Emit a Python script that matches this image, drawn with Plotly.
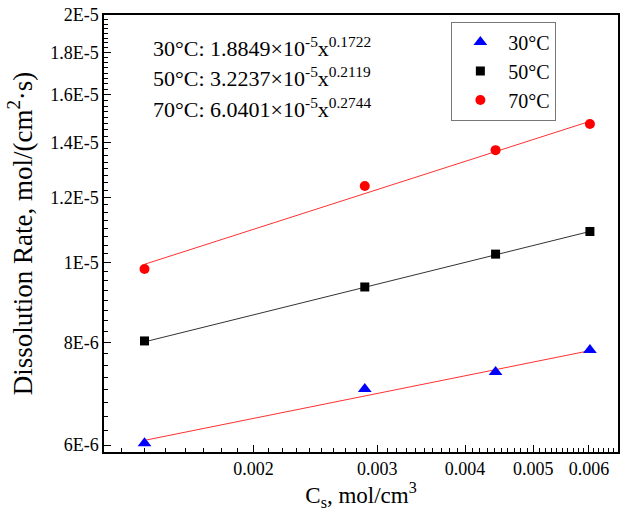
import numpy as np
import plotly.graph_objects as go

# ---- data ----
cs = [0.0014, 0.00288, 0.00442, 0.00602]
rate_30 = [6.03e-6, 7.02e-6, 7.36e-6, 7.83e-6]
rate_50 = [8.03e-6, 9.34e-6, 1.024e-5, 1.091e-5]
rate_70 = [9.82e-6, 1.239e-5, 1.370e-5, 1.474e-5]

series_names = ["30°C", "50°C", "70°C"]
fit_a = [1.8849e-5, 3.2237e-5, 6.0401e-5]
fit_b = [0.1722, 0.2119, 0.2744]
fit_exp_text = ["1.8849", "3.2237", "6.0401"]
fit_pow_text = ["0.1722", "0.2119", "0.2744"]

y_tickvals = [6e-6, 8e-6, 1e-5, 1.2e-5, 1.4e-5, 1.6e-5, 1.8e-5, 2e-5]
y_ticktext = ["6E-6", "8E-6", "1E-5", "1.2E-5", "1.4E-5", "1.6E-5", "1.8E-5", "2E-5"]
x_tickvals = [0.002, 0.003, 0.004, 0.005, 0.006]
x_ticktext = ["0.002", "0.003", "0.004", "0.005", "0.006"]

FONT = "'Liberation Serif', 'Times New Roman', serif"

fig = go.Figure()

line_colors = ["#ff3030", "#333333", "#ff3030"]
fit_x = [min(cs), max(cs)]
for a, b, col in zip(fit_a, fit_b, line_colors):
    fig.add_trace(go.Scatter(
        x=fit_x, y=[a * xv ** b for xv in fit_x], mode="lines",
        line=dict(color=col, width=1), showlegend=False, hoverinfo="skip"))

marker_specs = [
    (rate_30, "triangle-up", "#0000ff", 12),
    (rate_50, "square", "#000000", 9),
    (rate_70, "circle", "#ff0000", 10),
]
for name, (vals, sym, col, sz) in zip(series_names, marker_specs):
    fig.add_trace(go.Scatter(
        x=cs, y=vals, mode="markers", name=name,
        marker=dict(symbol=sym, color=col, size=sz, line=dict(width=0))))

# equation annotations
for i, (name, c, p) in enumerate(zip(series_names, fit_exp_text, fit_pow_text)):
    fig.add_annotation(
        xref="paper", yref="paper", x=0.091, y=0.927 - i * 0.07,
        xanchor="left", yanchor="middle", showarrow=False,
        text=f"{name}: {c}×10<sup>-5</sup>x<sup>{p}</sup>",
        font=dict(family=FONT, size=22, color="black"))

minor_x = [round(v, 5) for v in np.arange(0.0012, 0.0067, 0.0001)]
minor_y = [round(v, 12) for v in np.arange(5.75e-6, 2.01e-5, 0.25e-6)]

fig.update_xaxes(
    type="log", range=[np.log10(0.001226), np.log10(0.0066)],
    tickmode="array", tickvals=x_tickvals, ticktext=x_ticktext,
    ticks="inside", ticklen=7, tickwidth=1.2, tickcolor="black",
    minor=dict(tickmode="array", tickvals=minor_x, ticks="inside",
               ticklen=4, tickwidth=1, tickcolor="black"),
    showline=True, linecolor="black", linewidth=1.5, mirror=True,
    showgrid=False, zeroline=False,
    tickfont=dict(family=FONT, size=18, color="black"),
    title=dict(text="C<sub>s</sub>, mol/cm<sup>3</sup>",
               font=dict(family=FONT, size=23, color="black"), standoff=5))

fig.update_yaxes(
    type="log", range=[-5.2303, np.log10(2e-5)],
    tickmode="array", tickvals=y_tickvals, ticktext=y_ticktext,
    ticks="inside", ticklen=7, tickwidth=1.2, tickcolor="black",
    minor=dict(tickmode="array", tickvals=minor_y, ticks="inside",
               ticklen=4, tickwidth=1, tickcolor="black"),
    showline=True, linecolor="black", linewidth=1.5, mirror=True,
    showgrid=False, zeroline=False,
    tickfont=dict(family=FONT, size=18, color="black"),
    title=dict(text="Dissolution Rate, mol/(cm<sup>2</sup>·s)",
               font=dict(family=FONT, size=27, color="black"), standoff=10))

fig.update_layout(
    width=622, height=514,
    margin=dict(l=104, r=2, t=15, b=62),
    paper_bgcolor="white", plot_bgcolor="white",
    font=dict(family=FONT, color="black"),
    legend=dict(x=0.6758, y=0.985, xanchor="left", yanchor="top",
                bordercolor="#777777", borderwidth=1, bgcolor="white",
                font=dict(family=FONT, size=20, color="black"),
                itemwidth=46, tracegroupgap=0),
)

fig.write_html("out.html",
               config={"displayModeBar": False},
               post_script="document.body.style.margin='0px';document.body.style.overflow='hidden';")
